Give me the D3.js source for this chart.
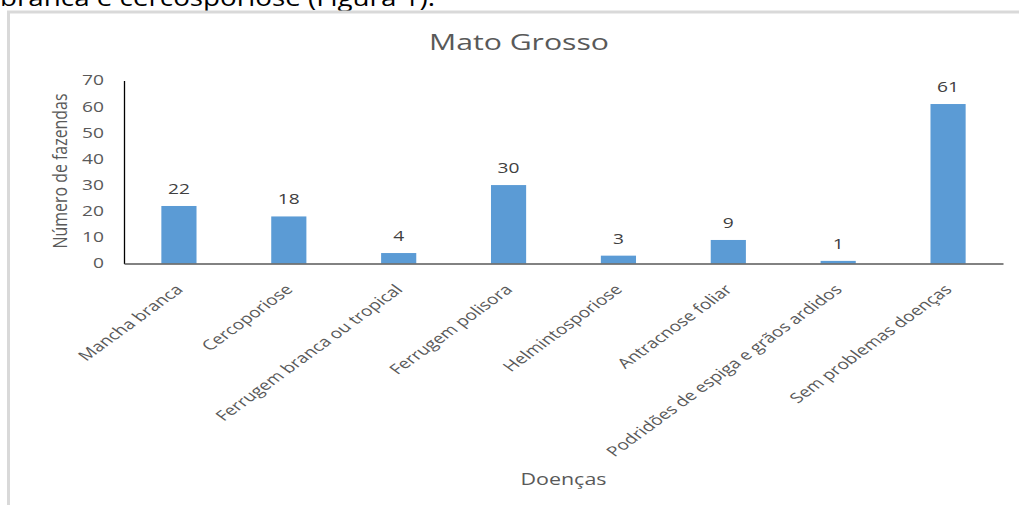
<!DOCTYPE html>
<html>
<head>
<meta charset="utf-8">
<script src="https://cdn.jsdelivr.net/npm/d3@7"></script>
<style>
html,body{margin:0;padding:0;background:#fff;}
svg{display:block;}
text{font-family:"Open Sans",sans-serif;}
</style>
</head>
<body>
<svg id="chart" width="1019" height="505"></svg>
<script>
const categories = ["Mancha branca","Cercoporiose","Ferrugem branca ou tropical","Ferrugem polisora","Helmintosporiose","Antracnose foliar","Podridões de espiga e grãos ardidos","Sem problemas doenças"];
const values = [22,18,4,30,3,9,1,61];
const yTicks = [0,10,20,30,40,50,60,70];
const chartTitle = "Mato Grosso";
const xTitle = "Doenças";
const yTitle = "Número de fazendas";
const topText = "branca e cercosporiose (Figura 1).";

const svg = d3.select("#chart");
const W = 1019, H = 505;
const m = {left:124, right:16, top:80.5, bottom:241.5};
const SX = 1.37; // horizontal stretch of the original picture's text

// top cut-off text
svg.append("text").attr("x",0).attr("y",6).attr("font-size",24).attr("fill","#000")
  .attr("textLength",435).attr("lengthAdjust","spacingAndGlyphs").text(topText);

// frame
svg.append("path").attr("d","M8.5,505 V12 H1019").attr("fill","none").attr("stroke","#d9d9d9").attr("stroke-width",3);

const x = d3.scaleBand().domain(categories).range([m.left, W-m.right]).paddingInner(0.68).paddingOuter(0.34);
const y = d3.scaleLinear().domain([0,70]).range([H-m.bottom, m.top]);

// bars
svg.append("g").selectAll("rect").data(values).join("rect")
  .attr("x",(d,i)=>x(categories[i])).attr("width",x.bandwidth())
  .attr("y",d=>y(d)).attr("height",d=>y(0)-y(d)).attr("fill","#5b9bd5");

// value labels
svg.append("g").selectAll("text").data(values).join("text")
  .attr("transform",(d,i)=>`translate(${x(categories[i])+x.bandwidth()/2},${y(d)-12}) scale(${SX},1)`)
  .attr("text-anchor","middle").attr("font-size",14).attr("fill","#404040").text(d=>d);

// y axis
const ya = svg.append("g").attr("transform",`translate(${m.left},0)`)
  .call(d3.axisLeft(y).tickValues(yTicks).tickSize(0).tickPadding(0));
ya.select(".domain").attr("stroke","#000").attr("stroke-width",1.3);
ya.selectAll(".tick text").attr("font-size",14).attr("fill","#595959").attr("font-family","Open Sans")
  .attr("x",0).attr("transform",`translate(-20,0) scale(${SX},1)`);

// x axis
const xa = svg.append("g").attr("transform",`translate(0,${y(0)})`)
  .call(d3.axisBottom(x).tickSize(0).tickPadding(0));
xa.select(".domain").attr("stroke","#595959").attr("stroke-width",1.3);
xa.selectAll("text").attr("font-size",14).attr("fill","#595959").attr("font-family","Open Sans")
  .attr("text-anchor","end").attr("dy",0).attr("y",0)
  .attr("transform",`translate(5,27) scale(${SX},1) rotate(-45)`);

// titles
svg.append("text").attr("x",519).attr("y",50).attr("text-anchor","middle").attr("font-size",22)
  .attr("fill","#595959").attr("textLength",180).attr("lengthAdjust","spacingAndGlyphs").text(chartTitle);
svg.append("text").attr("transform",`translate(${(m.left+W-m.right)/2},485) scale(1.3,1)`).attr("text-anchor","middle")
  .attr("font-size",16.5).attr("fill","#595959").text(xTitle);
svg.append("text").attr("transform",`translate(67,171) rotate(-90) scale(1,${SX})`).attr("text-anchor","middle")
  .attr("font-size",15).attr("fill","#595959").attr("textLength",155).attr("lengthAdjust","spacingAndGlyphs").text(yTitle);
</script>
</body>
</html>
